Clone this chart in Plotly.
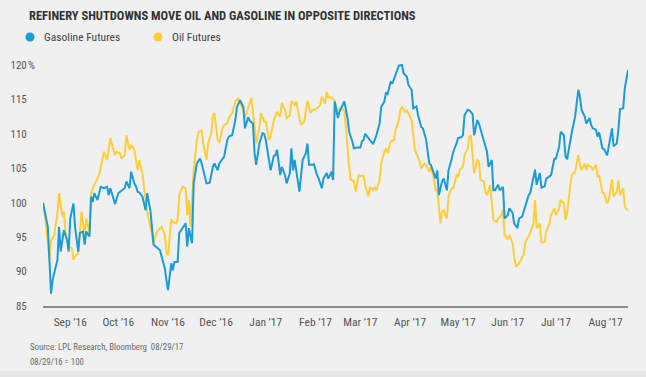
import pandas as pd
import plotly.graph_objects as go

# ---------------- data (index: 08/29/16 = 100) ----------------
start_date = "2016-08-29"

gas_days = [0,1,3,4,5,6,7,9,10,11,13,15,16,17,19,20,22,23,25,26,27,29,30,31,32,34,36,38,40,41,42,44,45,47,49,51,52,54,55,57,58,59,
            60,62,64,65,67,68,69,71,73,74,76,77,78,80,81,82,84,85,87,89,90,91,93,94,96,98,99,101,102,104,106,107,109,110,112,113,115,116,118,
            120,121,123,125,126,128,129,131,132,133,135,137,138,139,141,142,144,145,146,148,149,151,152,154,155,156,157,159,160,162,164,165,166,168,169,171,172,174,175,177,178,
            180,181,182,184,185,187,188,190,191,193,194,196,198,199,200,201,203,204,206,208,210,211,213,214,215,217,218,220,222,224,225,227,228,230,231,233,234,236,237,239,
            241,242,244,245,246,247,249,250,252,253,255,256,258,259,261,262,263,265,266,268,269,271,272,274,275,277,278,280,281,282,284,285,287,288,290,291,293,294,296,297,299,
            301,303,304,306,307,308,310,311,313,314,316,317,319,320,322,323,325,326,327,329,330,332,333,334,335,336,338,339,341,342,343,345,346,347,349,350,352,353,355,356,358,359,360,362,363,365]
gas_values = [100.0,98.9,96.5,91.7,86.8,88.8,89.7,91.7,96.5,92.9,96.0,94.6,92.9,97.7,99.9,96.5,92.9,95.6,95.8,93.9,95.8,95.1,100.9,100.1,101.4,100.4,102.3,102.1,102.3,101.1,102.1,100.6,99.8,101.4,101.8,102.1,103.1,102.1,104.5,102.8,102.4,101.6,
              101.5,100.9,98.9,101.4,98.9,96.5,93.9,93.5,93.1,92.2,90.5,88.8,87.3,91.2,90.2,91.4,91.4,95.6,96.3,97.0,93.6,96.3,94.1,102.8,105.7,106.4,105.7,104.0,102.8,102.9,105.2,105.7,104.7,105.7,106.4,106.7,109.1,109.6,109.8,
              112.0,113.9,114.9,113.9,110.8,112.4,111.9,111.5,107.2,105.5,108.6,110.1,110.0,109.1,105.7,104.7,106.8,106.9,107.7,104.0,105.2,104.0,102.8,104.3,107.9,104.7,106.2,103.1,101.6,106.2,107.2,108.6,105.5,105.5,105.6,104.0,103.5,102.1,103.5,104.3,103.5,
              104.5,103.3,114.7,112.3,113.2,114.2,114.7,112.3,110.3,108.9,107.9,108.0,108.0,108.9,109.1,110.0,109.5,109.1,108.5,109.8,111.5,113.9,114.7,116.0,115.8,117.6,117.3,118.5,119.9,120.0,118.8,118.3,117.1,116.4,113.7,114.0,112.7,111.0,110.8,109.2,
              105.7,105.5,104.3,103.5,104.7,101.1,103.1,103.5,101.8,104.7,106.4,107.4,108.6,109.4,109.5,109.8,112.7,113.5,113.4,112.9,109.8,112.0,111.5,109.8,109.1,107.4,105.2,106.2,101.8,101.8,102.6,101.8,102.3,97.7,98.2,99.2,98.5,97.0,96.3,97.7,98.0,
              99.4,101.1,101.4,103.5,104.8,102.6,104.3,102.2,102.4,103.5,103.8,104.0,106.4,106.4,108.1,110.3,109.8,106.7,106.3,109.1,110.3,112.5,114.7,116.4,115.4,113.5,112.5,111.5,112.3,111.3,110.8,110.6,109.6,110.2,107.9,107.8,106.9,108.4,110.8,108.2,108.6,110.6,113.6,113.7,116.6,119.3]

oil_days = [0,2,4,5,7,8,9,10,12,13,14,16,18,19,20,22,23,24,26,27,29,30,32,34,35,37,38,40,42,43,45,46,48,49,51,52,54,55,57,58,59,
            60,62,64,65,67,68,69,71,72,74,76,77,78,80,81,83,84,85,87,89,90,91,92,94,96,97,99,100,102,103,105,106,107,109,110,112,113,115,116,118,
            120,122,123,125,126,128,129,130,132,133,135,136,138,139,141,142,144,146,148,149,151,152,154,155,157,158,160,161,163,164,165,167,168,170,172,173,174,176,177,178,180,
            182,184,185,187,188,189,190,191,192,194,195,197,198,200,201,203,204,206,207,208,210,211,213,214,215,217,219,220,222,223,224,226,227,229,230,232,233,235,236,238,239,
            241,242,244,245,246,248,249,250,252,253,255,256,258,259,260,262,263,265,266,267,268,269,271,272,273,275,276,277,279,280,281,283,284,286,287,288,290,291,293,294,295,297,298,300,
            301,303,304,306,307,308,310,311,313,314,316,317,319,320,322,323,325,326,327,329,330,332,333,334,335,336,338,339,340,342,343,345,346,347,349,350,352,353,355,356,358,359,360,362,363,365]
oil_values = [100.0,96.5,91.9,94.6,95.3,96.8,98.5,101.4,98.0,98.7,95.8,93.6,93.4,91.7,92.2,92.7,96.0,98.7,95.1,97.7,95.8,101.4,102.6,103.5,104.0,106.2,107.4,106.2,109.4,108.4,106.9,107.4,107.2,106.4,106.9,109.8,107.7,108.4,107.7,106.2,104.7,
              106.2,104.3,100.4,98.7,96.5,95.1,94.1,95.8,96.0,96.5,95.3,92.7,92.4,97.6,97.2,97.0,97.5,101.1,102.3,102.1,98.2,100.4,96.5,104.7,109.1,110.3,110.5,108.6,106.2,108.6,110.1,112.7,113.0,109.1,108.7,110.8,111.3,111.5,112.3,113.0,
              114.7,115.2,114.4,113.5,112.3,113.7,114.7,115.2,111.0,108.6,111.0,113.0,111.8,111.8,109.1,109.6,112.0,113.2,112.5,114.5,113.5,112.3,112.7,114.8,114.2,114.7,112.3,111.3,111.8,113.5,114.8,113.0,113.5,113.5,113.9,114.2,115.4,114.4,116.1,115.3,115.3,
              114.7,113.0,113.7,113.6,113.2,111.0,107.9,105.2,103.4,103.1,101.6,104.0,103.9,103.9,102.6,100.9,102.3,101.8,102.3,101.8,103.3,105.7,107.4,107.9,107.2,108.9,109.1,110.6,112.0,113.5,113.9,113.2,113.4,112.5,112.0,107.7,107.2,106.0,105.0,105.7,105.5,
              104.5,105.2,103.3,101.8,101.8,97.0,98.7,98.9,97.7,100.9,102.1,102.1,104.0,103.8,104.7,105.2,106.9,107.9,109.6,109.7,107.4,104.3,106.2,106.0,103.3,103.1,101.6,101.1,102.6,100.1,97.5,97.2,97.7,98.2,99.0,95.3,94.7,95.3,94.1,92.2,90.7,91.2,91.7,92.5,
              94.3,95.3,95.6,97.0,100.4,96.3,97.0,94.2,94.3,95.8,97.0,98.2,99.2,98.2,99.2,100.4,99.9,97.5,98.5,102.6,104.0,104.5,106.0,106.9,105.7,104.7,105.7,104.7,105.5,105.2,104.8,105.5,103.8,104.0,101.5,101.4,99.9,100.4,103.4,100.9,101.6,103.2,101.1,102.1,99.4,98.8]

month_ticks = ["2016-09-15","2016-10-15","2016-11-15","2016-12-15","2017-01-15","2017-02-15",
               "2017-03-15","2017-04-15","2017-05-15","2017-06-15","2017-07-15","2017-08-15"]
month_labels = ["Sep \u201916","Oct \u201916","Nov \u201916","Dec \u201916","Jan \u201917","Feb \u201917",
                "Mar \u201917","Apr \u201917","May \u201917","Jun \u201917","Jul \u201917","Aug \u201917"]
y_ticks = [85, 90, 95, 100, 105, 110, 115, 120]
y_labels = ["85", "90", "95", "100", "105", "110", "115", "120"]

series_names = ["Gasoline Futures", "Oil Futures"]
title_text = "REFINERY SHUTDOWNS MOVE OIL AND GASOLINE IN OPPOSITE DIRECTIONS"
source_text = "Source: LPL Research, Bloomberg\u00a0\u00a008/29/17"
note_text = "08/29/16 = 100"

# ---------------- styling ----------------
BLUE = "#1b9bd7"
YELLOW = "#fccf3a"
BG = "#f0f0f0"
FONT = ("Roboto Condensed, Noto Sans ExtraCondensed, Noto Sans Condensed, "
        "Liberation Sans Narrow, DejaVu Sans Condensed, sans-serif")

W, H = 646, 377
L, R, T, B = 43, 628, 58, 306


def px(x):
    return (x - L) / (R - L)


def py(y):
    return (B - y) / (B - T)


base = pd.Timestamp(start_date)
gas_dates = [base + pd.Timedelta(days=d) for d in gas_days]
oil_dates = [base + pd.Timedelta(days=d) for d in oil_days]

fig = go.Figure()
fig.add_trace(go.Scatter(x=oil_dates, y=oil_values, mode="lines", name=series_names[1],
                         line=dict(color=YELLOW, width=2), showlegend=False))
fig.add_trace(go.Scatter(x=gas_dates, y=gas_values, mode="lines", name=series_names[0],
                         line=dict(color=BLUE, width=2), showlegend=False))

fig.update_layout(
    width=W, height=H,
    paper_bgcolor=BG, plot_bgcolor=BG,
    margin=dict(l=L, r=W - R, t=T, b=H - B, pad=0),
    showlegend=False,
    font=dict(family=FONT, color="#555555"),
)

fig.update_xaxes(
    type="date",
    range=[base, base + pd.Timedelta(days=365)],
    tickvals=month_ticks, ticktext=month_labels,
    ticks="outside", ticklen=4, tickcolor="rgba(0,0,0,0)",
    tickfont=dict(size=11.5, color="#555555", family=FONT),
    showgrid=False, zeroline=False,
    showline=True, linecolor="#8c8c8c", linewidth=1.5,
)
fig.update_yaxes(
    range=[85, 85 + (B - T) / 6.886],
    tickvals=y_ticks, ticktext=y_labels,
    ticks="outside", ticklen=13, tickcolor="rgba(0,0,0,0)",
    tickfont=dict(size=11, color="#555555", family=FONT),
    showgrid=False, zeroline=False, showline=False,
)

annotations = [
    dict(x=px(27), y=py(15), text="<b>" + title_text + "</b>", showarrow=False,
         xanchor="left", yanchor="middle", font=dict(size=12.5, color="#333333", family=FONT)),
    dict(x=px(42), y=py(37), text=series_names[0], showarrow=False,
         xanchor="left", yanchor="middle", font=dict(size=11.5, color="#444444", family=FONT)),
    dict(x=px(170), y=py(37), text=series_names[1], showarrow=False,
         xanchor="left", yanchor="middle", font=dict(size=11.5, color="#444444", family=FONT)),
    dict(x=px(26), y=py(65), text="%", showarrow=False,
         xanchor="left", yanchor="middle", font=dict(size=11, color="#555555", family=FONT)),
    dict(x=px(28), y=py(347), text=source_text, showarrow=False,
         xanchor="left", yanchor="middle", font=dict(size=8.8, color="#6a6a6a", family=FONT)),
    dict(x=px(28), y=py(362), text=note_text, showarrow=False,
         xanchor="left", yanchor="middle", font=dict(size=8.8, color="#6a6a6a", family=FONT)),
]
for a in annotations:
    a.update(xref="paper", yref="paper")
fig.update_layout(annotations=annotations)

shapes = []
for cx, col in [(30, BLUE), (158, YELLOW)]:
    shapes.append(dict(type="circle", xref="paper", yref="paper",
                       xsizemode="pixel", ysizemode="pixel",
                       xanchor=px(cx), yanchor=py(37),
                       x0=-4.5, x1=4.5, y0=-4.5, y1=4.5,
                       fillcolor=col, line=dict(width=0)))
shapes.append(dict(type="rect", xref="paper", yref="paper",
                   x0=px(0), x1=px(W), y0=py(H), y1=py(371),
                   fillcolor="#e6e6e6", line=dict(width=0), layer="below"))
fig.update_layout(shapes=shapes)

fig.write_html("out.html", config={"displayModeBar": False},
               post_script="document.body.style.margin='0px';document.body.style.overflow='hidden';")
